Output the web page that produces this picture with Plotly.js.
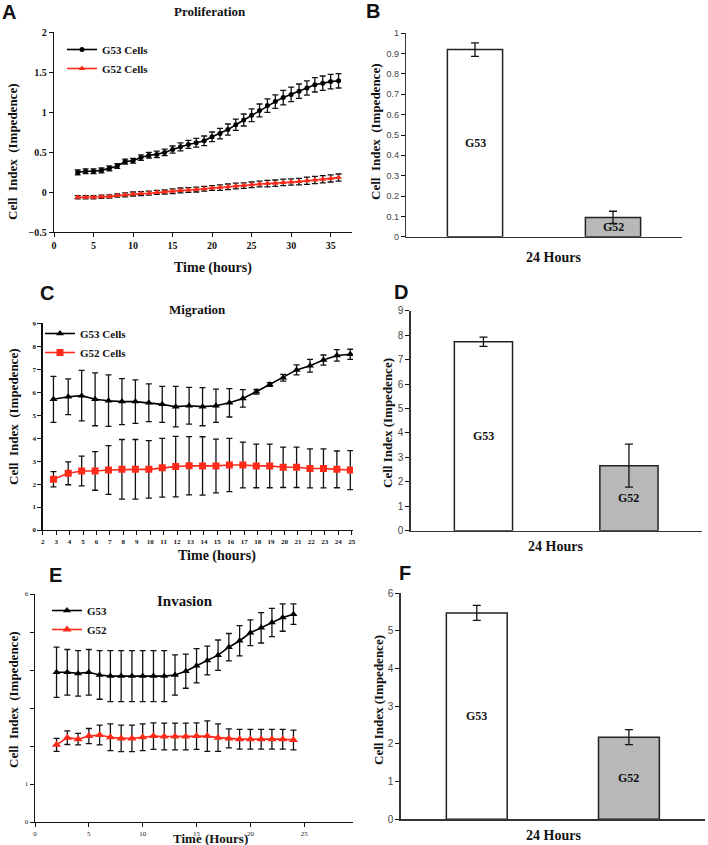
<!DOCTYPE html>
<html>
<head>
<meta charset="utf-8">
<script src="https://cdn.plot.ly/plotly-3.0.1.min.js"></script>
<style>html,body{margin:0;padding:0;background:#fff;}#chart{width:708px;height:845px;}</style>
</head>
<body>
<div id="chart"></div>
<script>
// ---------- Panel A: Proliferation ----------
const A_time = [3,4,5,6,7,8,9,10,11,12,13,14,15,16,17,18,19,20,21,22,23,24,25,26,27,28,29,30,31,32,33,34,35,36];
const A_g53 = [0.245,0.26,0.26,0.27,0.295,0.325,0.38,0.39,0.43,0.46,0.47,0.495,0.53,0.565,0.595,0.615,0.64,0.69,0.73,0.78,0.84,0.90,0.96,1.02,1.08,1.13,1.18,1.22,1.26,1.30,1.34,1.36,1.38,1.39];
const A_g53_err = [0.03,0.03,0.03,0.03,0.03,0.03,0.03,0.03,0.035,0.035,0.04,0.04,0.045,0.05,0.05,0.055,0.06,0.06,0.065,0.07,0.07,0.075,0.08,0.08,0.085,0.085,0.09,0.09,0.09,0.09,0.09,0.09,0.09,0.09];
const A_g52 = [-0.065,-0.065,-0.065,-0.06,-0.055,-0.045,-0.035,-0.025,-0.02,-0.015,-0.005,0.0,0.01,0.02,0.025,0.03,0.04,0.05,0.055,0.065,0.075,0.08,0.09,0.1,0.105,0.11,0.12,0.125,0.13,0.14,0.15,0.16,0.17,0.18];
const A_g52_err = [0.02,0.02,0.02,0.02,0.02,0.02,0.025,0.025,0.025,0.025,0.025,0.025,0.03,0.03,0.03,0.03,0.03,0.03,0.035,0.035,0.035,0.035,0.035,0.035,0.04,0.04,0.04,0.04,0.04,0.045,0.045,0.045,0.045,0.045];

// ---------- Panel C: Migration ----------
const C_time = [2.8,3.9,4.9,5.9,6.9,7.9,8.9,9.9,10.9,11.9,12.9,13.9,14.9,15.9,16.9,17.9,18.9,19.9,20.9,21.9,22.9,23.9,24.9];
const C_g53 = [5.69,5.80,5.85,5.69,5.63,5.59,5.59,5.54,5.47,5.37,5.41,5.37,5.41,5.54,5.73,6.02,6.34,6.63,6.97,7.15,7.40,7.60,7.65];
const C_g53_err = [1.0,0.78,1.1,1.15,1.12,1.0,0.95,0.82,0.78,0.88,0.8,0.83,0.72,0.62,0.38,0.1,0.08,0.15,0.22,0.28,0.22,0.25,0.22];
const C_g52 = [2.21,2.47,2.57,2.57,2.61,2.64,2.64,2.64,2.71,2.76,2.80,2.79,2.79,2.83,2.83,2.79,2.79,2.73,2.73,2.68,2.68,2.64,2.61];
const C_g52_err = [0.33,0.5,0.65,0.84,1.06,1.3,1.3,1.25,1.28,1.32,1.27,1.27,1.17,1.16,1.0,0.95,0.95,0.88,0.88,0.85,0.85,0.8,0.85];

// ---------- Panel E: Invasion ----------
const E_time = [2,3,4,5,6,7,8,9,10,11,12,13,14,15,16,17,18,19,20,21,22,23,24];
const E_g53 = [3.94,3.94,3.91,3.94,3.87,3.84,3.84,3.84,3.84,3.84,3.84,3.87,3.97,4.11,4.25,4.39,4.60,4.77,4.98,5.11,5.25,5.38,5.47];
const E_g53_err = [0.66,0.6,0.6,0.6,0.64,0.67,0.67,0.67,0.67,0.67,0.67,0.53,0.45,0.45,0.38,0.4,0.36,0.4,0.34,0.4,0.37,0.36,0.27];
const E_g52 = [2.03,2.22,2.18,2.26,2.29,2.23,2.20,2.20,2.23,2.26,2.25,2.25,2.25,2.26,2.26,2.22,2.20,2.18,2.18,2.18,2.18,2.18,2.16];
const E_g52_err = [0.17,0.18,0.15,0.2,0.26,0.35,0.35,0.35,0.35,0.35,0.35,0.35,0.35,0.35,0.4,0.36,0.25,0.26,0.26,0.26,0.26,0.26,0.26];
const E_yticks = [0,1,2,3,4,5,6];
const E_yticktext = ['0','1','','','','','6'];

// ---------- Bar panels (24 Hours) ----------
const barCats = ['G53','G52'];
const B_vals = [0.92, 0.095];
const B_err = [0.033, 0.03];
const D_vals = [7.73, 2.66];
const D_err = [0.19, 0.88];
const F_vals = [5.48, 2.18];
const F_err = [0.2, 0.2];
const barColors = ['#ffffff', '#b8b8b8'];

// ---------- helpers ----------
const W = 708, H = 845;
const px = v => v / W;
const py = v => 1 - v / H;
const SERIF = 'Liberation Serif, Times New Roman, serif';
const SANS = 'Liberation Sans, Arial, sans-serif';
const RED = '#ff2a1a';

function errs(arr, w) {
  return {type: 'data', array: arr, visible: true, color: '#111', thickness: 1.3, width: w};
}

function lineTrace(x, y, e, name, color, symbol, size, xa, ya, leg) {
  return {
    type: 'scatter', mode: 'lines+markers', x: x, y: y, name: name,
    xaxis: xa, yaxis: ya, legend: leg,
    line: {color: color, width: 1.6},
    marker: {color: color, symbol: symbol, size: size},
    error_y: errs(e, 3)
  };
}

function barTrace(vals, e, xa, ya) {
  return {
    type: 'bar', x: barCats, y: vals, xaxis: xa, yaxis: ya, width: 0.4,
    showlegend: false,
    marker: {color: barColors, line: {color: '#222', width: 1.5}},
    error_y: errs(e, 4)
  };
}

const data = [
  lineTrace(A_time, A_g53, A_g53_err, 'G53 Cells', '#000', 'circle', 5, 'x', 'y', 'legend'),
  lineTrace(A_time, A_g52, A_g52_err, 'G52 Cells', RED, 'triangle-up', 6, 'x', 'y', 'legend'),
  barTrace(B_vals, B_err, 'x2', 'y2'),
  lineTrace(C_time, C_g53, C_g53_err, 'G53 Cells', '#000', 'triangle-up', 7, 'x3', 'y3', 'legend2'),
  lineTrace(C_time, C_g52, C_g52_err, 'G52 Cells', RED, 'square', 7, 'x3', 'y3', 'legend2'),
  barTrace(D_vals, D_err, 'x4', 'y4'),
  lineTrace(E_time, E_g53, E_g53_err, 'G53', '#000', 'triangle-up', 7, 'x5', 'y5', 'legend3'),
  lineTrace(E_time, E_g52, E_g52_err, 'G52', RED, 'triangle-up', 8, 'x5', 'y5', 'legend3'),
  barTrace(F_vals, F_err, 'x6', 'y6')
];

function axis(dom, range, extra) {
  return Object.assign({
    domain: dom, range: range, showgrid: false, zeroline: false,
    showline: true, linecolor: '#111', linewidth: 1.3,
    ticks: 'outside', ticklen: 4, tickwidth: 1, tickcolor: '#111',
    fixedrange: true
  }, extra);
}

const tickSerifBold = s => ({family: SERIF, size: s, color: '#111', weight: 700});
const tickSerif = s => ({family: SERIF, size: s, color: '#222'});
const tickSans = s => ({family: SANS, size: s, color: '#444'});

const barX = (dom, anchor) => axis(dom, [-0.5, 1.5], {type: 'category', anchor: anchor, ticks: '', showticklabels: false, linecolor: '#333'});

const layout = {
  width: W, height: H,
  margin: {l: 0, r: 0, t: 0, b: 0},
  paper_bgcolor: '#fff', plot_bgcolor: 'rgba(0,0,0,0)',
  showlegend: true,
  // A
  xaxis: axis([px(54), px(352)], [0, 37.7], {anchor: 'y', tickvals: [0,5,10,15,20,25,30,35], tickfont: tickSerifBold(10)}),
  yaxis: axis([py(232), py(32)], [-0.5, 2], {anchor: 'x', tickvals: [-0.5,0,0.5,1,1.5,2], tickfont: tickSerifBold(10)}),
  // B
  xaxis2: barX([px(406), px(682)], 'y2'),
  yaxis2: axis([py(236.7), py(33.3)], [0, 1], {anchor: 'x2', dtick: 0.1, tickfont: tickSans(9), linecolor: '#333'}),
  // C
  xaxis3: axis([px(42.7), px(353)], [2, 25.1], {anchor: 'y3', dtick: 1, tick0: 2, tickfont: tickSerifBold(7)}),
  yaxis3: axis([py(530), py(323.3)], [0, 9], {anchor: 'x3', dtick: 1, tickfont: tickSerifBold(7)}),
  // D
  xaxis4: barX([px(410.7), px(701.7)], 'y4'),
  yaxis4: axis([py(530.7), py(310.7)], [0, 9], {anchor: 'x4', dtick: 1, tickfont: tickSans(10), linecolor: '#333'}),
  // E
  xaxis5: axis([px(35), px(352.7)], [0, 29.5], {anchor: 'y5', tickvals: [0,5,10,15,20,25], tickfont: tickSerif(7)}),
  yaxis5: axis([py(822), py(594)], [0, 6], {anchor: 'x5', tickvals: E_yticks, ticktext: E_yticktext, tickfont: tickSerif(7)}),
  // F
  xaxis6: barX([px(400.7), px(705)], 'y6'),
  yaxis6: axis([py(819.3), py(593.3)], [0, 6], {anchor: 'x6', dtick: 1, tickfont: tickSans(10), linecolor: '#333'}),

  legend: {x: px(62), y: py(35), xanchor: 'left', yanchor: 'top', bgcolor: 'rgba(0,0,0,0)', font: {family: SERIF, size: 11, color: '#111', weight: 700}},
  legend2: {x: px(40), y: py(319), xanchor: 'left', yanchor: 'top', bgcolor: 'rgba(0,0,0,0)', font: {family: SERIF, size: 11, color: '#111', weight: 700}},
  legend3: {x: px(47), y: py(596), xanchor: 'left', yanchor: 'top', bgcolor: 'rgba(0,0,0,0)', font: {family: SERIF, size: 11, color: '#111', weight: 700}},
  annotations: []
};

function note(text, x, y, size, opts) {
  layout.annotations.push(Object.assign({
    text: text, x: px(x), y: py(y), xref: 'paper', yref: 'paper',
    xanchor: 'center', yanchor: 'middle', showarrow: false,
    font: {family: SERIF, size: size, color: '#111', weight: 700}
  }, opts || {}));
}

// panel letters
const letterFont = {family: SANS, size: 20, color: '#111', weight: 700};
[['A', 9, 12], ['B', 373, 11], ['C', 47, 293], ['D', 401, 292], ['E', 55, 575], ['F', 405, 573]].forEach(l => {
  note(l[0], l[1], l[2], 20, {font: letterFont});
});

// titles
note('Proliferation', 210, 11, 13);
note('Migration', 197, 309, 13);
note('Invasion', 185, 601, 15);

// x axis titles
note('Time (hours)', 213, 268, 14);
note('24 Hours', 553, 257, 14);
note('Time (hours)', 217, 556, 14);
note('24 Hours', 555, 546, 14);
note('Time (Hours)', 210, 838, 13);
note('24 Hours', 553, 835, 14);

// y axis titles
const yt = 'Cell  Index  (Impedence)';
note(yt, 13, 152, 13, {textangle: -90});
note(yt, 375, 132, 13, {textangle: -90});
note(yt, 13, 417, 13, {textangle: -90});
note('Cell Index (Impedence)', 387, 423, 13, {textangle: -90});
note(yt, 13, 700, 13, {textangle: -90});
note('Cell Index (Impedence)', 378, 700, 13, {textangle: -90});

// bar labels (placed at half the bar height)
[['x2','y2',B_vals], ['x4','y4',D_vals], ['x6','y6',F_vals]].forEach(b => {
  barCats.forEach((c, i) => {
    layout.annotations.push({
      text: c, x: c, y: b[2][i] / 2, xref: b[0], yref: b[1],
      showarrow: false, xanchor: 'center', yanchor: 'middle',
      font: {family: SERIF, size: 12, color: '#111', weight: 700}
    });
  });
});

Plotly.newPlot('chart', data, layout, {staticPlot: true, displayModeBar: false});
</script>
</body>
</html>
